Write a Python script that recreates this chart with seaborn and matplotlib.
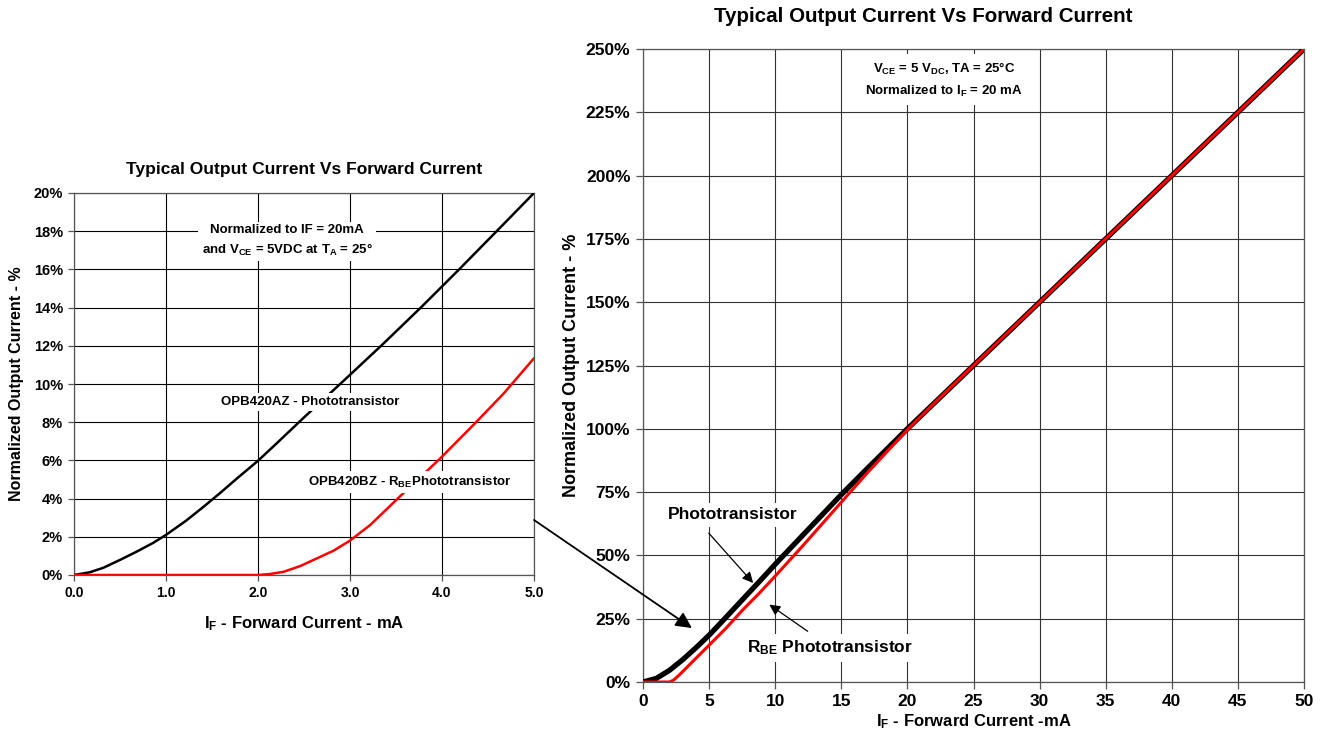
import numpy as np
import pandas as pd
import matplotlib
matplotlib.use("Agg")
import matplotlib.pyplot as plt
import seaborn as sns

# ---------------- data ----------------
# Left chart (0-5 mA)
left_if = [0.0, 0.17, 0.32, 0.5, 0.68, 0.86, 1.0, 1.22, 1.41, 1.59, 1.77, 2.0, 2.2, 2.5,
           2.96, 3.36, 3.78, 4.18, 4.59, 5.0]
left_photo = [0.0, 0.14, 0.38, 0.79, 1.22, 1.68, 2.1, 2.85, 3.58, 4.3, 5.05, 5.98, 6.88, 8.25,
              10.3, 12.1, 14.05, 15.97, 17.98, 20.0]
left_rbe_if = [0.0, 1.0, 2.0, 2.13, 2.28, 2.46, 2.64, 2.82, 3.0, 3.22, 3.54, 3.98, 4.34, 4.67, 5.0]
left_rbe = [0.0, 0.0, 0.0, 0.05, 0.17, 0.47, 0.87, 1.27, 1.8, 2.62, 4.1, 6.1, 7.85, 9.5, 11.35]

# Right chart (0-50 mA)
right_if = [0, 1, 2, 3, 4, 5, 6, 7, 8, 9, 10, 12, 15, 17, 20, 25, 30, 35, 40, 45, 50]
right_photo = [0, 1.4, 4.6, 8.8, 13.5, 18.5, 24.0, 29.6, 35.2, 40.8, 46.5, 57.5, 74.0, 84.5,
               100, 125, 150, 175, 200, 225, 250]
right_rbe_if = [0, 1, 2, 2.3, 2.75, 3.76, 5.03, 6.29, 7.55, 8.8, 10.1, 12, 15, 17, 20, 22,
                25, 30, 35, 40, 45, 50]
right_rbe = [0, 0, 0, 0.7, 2.8, 8.1, 14.7, 21.3, 28.5, 35.1, 42.4, 53.3, 71.0, 82.8, 99.6, 110,
             125, 150, 175, 200, 225, 250]

left_xticks = [0.0, 1.0, 2.0, 3.0, 4.0, 5.0]
left_xticklabels = ["0.0", "1.0", "2.0", "3.0", "4.0", "5.0"]
left_yticks = [0, 2, 4, 6, 8, 10, 12, 14, 16, 18, 20]
left_yticklabels = ["0%", "2%", "4%", "6%", "8%", "10%", "12%", "14%", "16%", "18%", "20%"]
right_xticks = [0, 5, 10, 15, 20, 25, 30, 35, 40, 45, 50]
right_xticklabels = ["0", "5", "10", "15", "20", "25", "30", "35", "40", "45", "50"]
right_yticks = [0, 25, 50, 75, 100, 125, 150, 175, 200, 225, 250]
right_yticklabels = ["0%", "25%", "50%", "75%", "100%", "125%", "150%", "175%", "200%", "225%", "250%"]

title_text = "Typical Output Current Vs Forward Current"

# ---------------- style ----------------
sns.set_theme(style="white")
plt.rcParams["font.family"] = ["Liberation Sans", "DejaVu Sans"]
plt.rcParams["font.weight"] = "bold"
plt.rcParams["text.color"] = "black"
plt.rcParams["axes.labelcolor"] = "black"
plt.rcParams["xtick.color"] = "black"
plt.rcParams["ytick.color"] = "black"
plt.rcParams["mathtext.fontset"] = "custom"
plt.rcParams["mathtext.rm"] = "Liberation Sans:bold"
plt.rcParams["mathtext.it"] = "Liberation Sans:bold"
plt.rcParams["mathtext.bf"] = "Liberation Sans:bold"
plt.rcParams["mathtext.default"] = "rm"

W, H = 1328, 745
fig = plt.figure(figsize=(W / 100, H / 100), dpi=100)
fig.patch.set_facecolor("white")

axL = fig.add_axes([74 / W, 1 - 575 / H, 460 / W, 382 / H])
axR = fig.add_axes([643 / W, 1 - 682 / H, 661 / W, 633 / H])

# ---------------- left chart ----------------
dfL1 = pd.DataFrame({"x": left_if, "y": left_photo})
dfL2 = pd.DataFrame({"x": left_rbe_if, "y": left_rbe})
sns.lineplot(data=dfL1, x="x", y="y", ax=axL, color="black", lw=1.8, zorder=3)
sns.lineplot(data=dfL2, x="x", y="y", ax=axL, color="#ff0000", lw=1.8, zorder=3)
axL.set_xlim(0, 5)
axL.set_ylim(0, 20)
axL.set_xticks(left_xticks)
axL.set_xticklabels(left_xticklabels, fontsize=10, fontweight="bold")
axL.set_yticks(left_yticks)
axL.set_yticklabels(left_yticklabels, fontsize=10.5, fontweight="bold")
axL.grid(True, color="black", lw=0.8, zorder=0)
axL.set_axisbelow(True)
for s in axL.spines.values():
    s.set_color("#555555")
    s.set_linewidth(0.9)
axL.tick_params(axis="both", direction="out", length=4, width=0.9, color="#555555", pad=4,
                bottom=True, left=True)
axL.set_title(title_text, fontsize=12.5, fontweight="bold", pad=14)
axL.set_xlabel("I$_F$ - Forward Current - mA", fontsize=12, fontweight="bold", labelpad=10)
axL.set_ylabel("Normalized Output Current - %", fontsize=11.5, fontweight="bold", labelpad=7)

wbox = dict(boxstyle="square,pad=0.25", fc="white", ec="none")
axL.text(2.315, 17.5, "Normalized to IF = 20mA\nand V$_{CE}$ = 5VDC at T$_A$ = 25°",
         ha="center", va="center", fontsize=9.5, fontweight="bold", linespacing=1.5,
         bbox=wbox, zorder=4)
axL.text(2.565, 9.06, "OPB420AZ - Phototransistor", ha="center", va="center",
         fontsize=9.5, fontweight="bold", bbox=wbox, zorder=4)
axL.text(3.65, 4.87, "OPB420BZ - R$_{BE}$Phototransistor", ha="center", va="center",
         fontsize=9.5, fontweight="bold", bbox=wbox, zorder=4)

# ---------------- right chart ----------------
dfR1 = pd.DataFrame({"x": right_if, "y": right_photo})
dfR2 = pd.DataFrame({"x": right_rbe_if, "y": right_rbe})
sns.lineplot(data=dfR1, x="x", y="y", ax=axR, color="black", lw=3.8, zorder=3)
sns.lineplot(data=dfR2, x="x", y="y", ax=axR, color="#ff0000", lw=2.2, zorder=4)
axR.set_xlim(0, 50)
axR.set_ylim(0, 250)
axR.set_xticks(right_xticks)
axR.set_xticklabels(right_xticklabels, fontsize=12.5, fontweight="bold")
axR.set_yticks(right_yticks)
axR.set_yticklabels(right_yticklabels, fontsize=12.5, fontweight="bold")
axR.grid(True, color="#333333", lw=0.8, zorder=0)
axR.set_axisbelow(True)
for s in axR.spines.values():
    s.set_color("#555555")
    s.set_linewidth(0.9)
axR.tick_params(axis="both", direction="out", length=5, width=0.9, color="#555555", pad=4,
                bottom=True, left=True)
axR.set_xlabel("I$_F$ - Forward Current -mA", fontsize=12, fontweight="bold", labelpad=2)
axR.set_ylabel("Normalized Output Current - %", fontsize=13, fontweight="bold", labelpad=4)
fig.text(923 / W, 1 - 16 / H, title_text, ha="center", va="center", fontsize=14.8,
         fontweight="bold")

axR.text(22.77, 237.8, "V$_{CE}$ = 5 V$_{DC}$, TA = 25°C\nNormalized to I$_F$ = 20 mA",
         ha="center", va="center", fontsize=9.5, fontweight="bold", linespacing=1.6,
         bbox=dict(boxstyle="square,pad=0.5", fc="white", ec="none"), zorder=5)

axR.text(6.8, 66, "Phototransistor", ha="center", va="center", fontsize=12.5,
         fontweight="bold", bbox=wbox, zorder=5)
axR.annotate("", xy=(8.47, 38.3), xytext=(4.84, 59.6),
             arrowprops=dict(arrowstyle="-|>", color="black", lw=0.9, mutation_scale=16),
             zorder=6)
axR.text(14.15, 13.4, "R$_{BE}$ Phototransistor", ha="center", va="center", fontsize=12.5,
         fontweight="bold", bbox=wbox, zorder=5)
axR.annotate("", xy=(9.38, 31.2), xytext=(12.63, 19.4),
             arrowprops=dict(arrowstyle="-|>", color="black", lw=0.9, mutation_scale=16),
             zorder=6)

# long connector arrow from left chart into right chart
axR.annotate("", xy=(3.7, 21.3), xytext=(534 / W, 1 - 520 / H), textcoords="figure fraction",
             arrowprops=dict(arrowstyle="-|>", color="black", lw=1.3, mutation_scale=24,
                             shrinkA=0, shrinkB=0),
             annotation_clip=False, zorder=6)

fig.savefig("out.png", dpi=100, facecolor="white")
